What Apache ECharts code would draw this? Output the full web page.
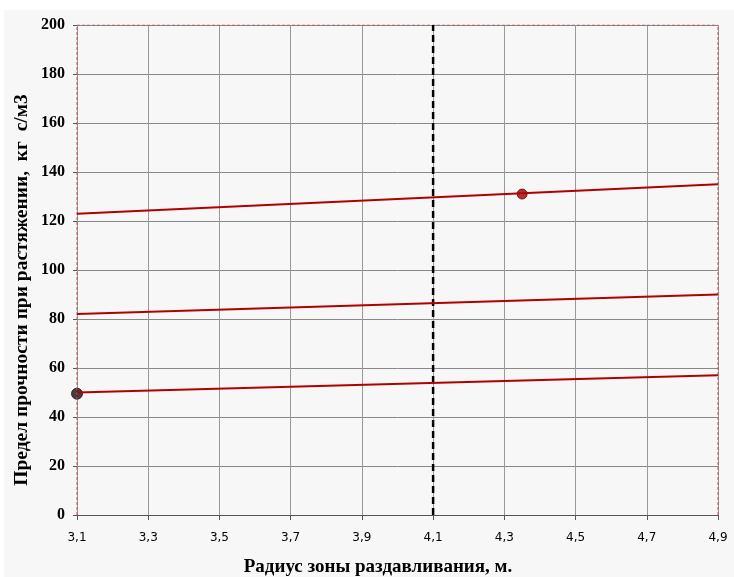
<!DOCTYPE html>
<html><head><meta charset="utf-8">
<script src="https://cdn.jsdelivr.net/npm/echarts@6/dist/echarts.min.js"></script>
<style>html,body{margin:0;padding:0;background:#fff;}#c{position:absolute;left:0;top:0;width:734px;height:577px;}</style>
</head><body><div id="c"></div>
<script>
const xRange = [3.1, 4.9];
const line1 = [[3.1, 123], [4.9, 135]];
const line2 = [[3.1, 82], [4.9, 90]];
const line3 = [[3.1, 50], [4.9, 57]];
const dashX = 4.1;
const redPoint = [[4.35, 131]];
const blackPoint = [[3.1, 49.5]];
const yTicks = [0, 200, 20];
const xTitle = 'Радиус зоны раздавливания, м.';
const yTitle = 'Предел прочности при растяжении,  кг  с/м3';
const chart = echarts.init(document.getElementById('c'));
const red = '#b00000';
chart.setOption({
  animation: false,
  graphic: [
    {type: 'rect', shape: {x: 4, y: 10, width: 730, height: 567}, style: {fill: '#f7f7f7'}, z: -10},
    {type: 'text', x: 378, y: 567, style: {text: xTitle, font: 'bold 19px "Liberation Serif"', fill: '#000', align: 'center', verticalAlign: 'middle'}},
    {type: 'text', x: 22, y: 290, rotation: Math.PI / 2, style: {text: yTitle, font: 'bold 19.5px "Liberation Serif"', fill: '#000', align: 'center', verticalAlign: 'middle'}}
  ],
  grid: {left: 77, right: 16, top: 25, bottom: 62},
  xAxis: {
    type: 'value', min: xRange[0], max: xRange[1], interval: 0.2,
    axisLine: {lineStyle: {color: '#555', width: 1}},
    axisTick: {show: true, length: 5, lineStyle: {color: '#555'}},
    axisLabel: {fontFamily: 'DejaVu Sans', fontSize: 12, color: '#000', margin: 17,
      formatter: v => v.toFixed(1).replace('.', ',')},
    splitLine: {show: true, lineStyle: {color: '#999', width: 1}}
  },
  yAxis: {
    type: 'value', min: yTicks[0], max: yTicks[1], interval: yTicks[2],
    axisLine: {show: false},
    axisTick: {show: true, length: 4, lineStyle: {color: '#555'}},
    axisLabel: {fontFamily: 'Liberation Serif', fontWeight: 'bold', fontSize: 16, color: '#000', margin: 12},
    splitLine: {show: true, lineStyle: {color: '#888', width: 1}}
  },
  series: [
    {type: 'line', data: [[xRange[0], 0], [xRange[0], 200]], symbol: 'none', silent: true,
      lineStyle: {color: '#c05050', width: 1, type: [3, 2]}},
    {type: 'line', data: [[xRange[1], 0], [xRange[1], 200]], symbol: 'none', silent: true,
      lineStyle: {color: '#c05050', width: 1, type: [3, 2]}},
    {type: 'line', data: [[xRange[0], 200], [xRange[1], 200]], symbol: 'none', silent: true,
      lineStyle: {color: '#c05050', width: 1, type: [3, 2]}},
    {type: 'line', data: [[dashX, 0], [dashX, 200]], symbol: 'none',
      lineStyle: {color: '#000', width: 2.5, type: [7, 4]}},
    {type: 'line', data: line1, symbol: 'none', lineStyle: {color: red, width: 2}},
    {type: 'line', data: line2, symbol: 'none', lineStyle: {color: red, width: 2}},
    {type: 'line', data: line3, symbol: 'none', lineStyle: {color: red, width: 2}},
    {type: 'scatter', data: redPoint, symbolSize: 10, itemStyle: {color: '#9a0000', borderColor: '#600', borderWidth: 1}},
    {type: 'scatter', data: blackPoint, symbolSize: 11, itemStyle: {color: '#111', borderColor: '#300', borderWidth: 1}}
  ]
});
</script></body></html>
